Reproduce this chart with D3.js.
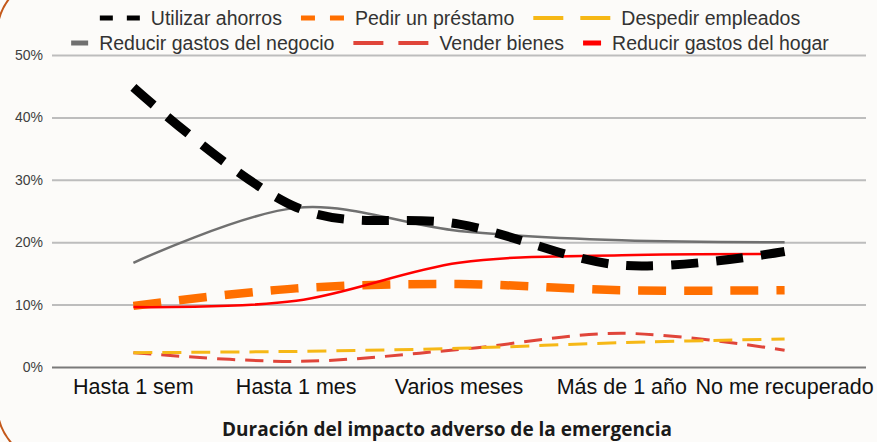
<!DOCTYPE html>
<html>
<head>
<meta charset="utf-8">
<script src="https://cdn.jsdelivr.net/npm/d3@7"></script>
<style>
  html, body { margin: 0; padding: 0; background: #fcfbf9; }
  svg { display: block; font-family: "Liberation Sans", Arial, sans-serif; }
</style>
</head>
<body>
<svg id="chart" width="877" height="442"></svg>
<script>
// categories and values (percent)
const categories = ["Hasta 1 sem", "Hasta 1 mes", "Varios meses", "Más de 1 año", "No me recuperado"];
const yTicks = [0, 10, 20, 30, 40, 50];

const utilizarAhorros = [44.8, 25.6, 22.9, 16.3, 18.5];
const pedirPrestamo = [9.8, 12.6, 13.3, 12.3, 12.3];
const despedirEmpleados = [2.3, 2.5, 3.0, 3.9, 4.5];
const reducirNegocio = [16.7, 25.5, 21.8, 20.3, 20.0];
const venderBienes = [2.3, 0.9, 2.8, 5.4, 2.7];
const reducirHogar = [9.6, 10.6, 16.7, 17.9, 18.1];

const seriesNames = [
  "Utilizar ahorros", "Pedir un préstamo", "Despedir empleados",
  "Reducir gastos del negocio", "Vender bienes", "Reducir gastos del hogar"
];
const seriesValues = [utilizarAhorros, pedirPrestamo, despedirEmpleados,
  reducirNegocio, venderBienes, reducirHogar];

// drawing styles, per series
const styles = [
  {color: "#000000", width: 9, dash: "27,18", legW: 40, legDash: "13,14", legWidth: 5},
  {color: "#ff6f00", width: 8.5, dash: "28,18", legW: 43, legDash: "14,15", legWidth: 5},
  {color: "#f6b816", width: 3, dash: "19,10", legW: 77, legDash: "30,17", legWidth: 4},
  {color: "#707070", width: 2.5, dash: null, legW: 17, legDash: null, legWidth: 5},
  {color: "#e0453a", width: 3, dash: "18,10", legW: 75, legDash: "30,15", legWidth: 4},
  {color: "#ff0000", width: 2.5, dash: null, legW: 18, legDash: null, legWidth: 5}
];
// draw order: thin lines below, thick on top like the original
const drawOrder = [4, 2, 1, 3, 5, 0];

const svg = d3.select("#chart");
const W = 877, H = 442;
const margin = {top: 55, right: 11, bottom: 75, left: 52};

svg.append("rect").attr("width", W).attr("height", H).attr("fill", "#fcfbf9");
// frame of the slide, rounded, mostly outside the picture
svg.append("rect")
  .attr("x", -3).attr("y", -25).attr("width", 1000).attr("height", 489)
  .attr("rx", 60).attr("ry", 60)
  .attr("fill", "none").attr("stroke", "#c4581a").attr("stroke-width", 2);

const x = d3.scaleBand()
  .domain(categories)
  .range([margin.left, W - margin.right]);
const y = d3.scaleLinear()
  .domain([0, 50])
  .range([H - margin.bottom, margin.top]);

// gridlines
const yAxis = d3.axisLeft(y)
  .tickValues(yTicks)
  .tickSize(-(W - margin.right - margin.left))
  .tickPadding(9)
  .tickFormat(d => d + "%");
const gy = svg.append("g")
  .attr("transform", "translate(" + margin.left + ",0)")
  .call(yAxis);
gy.select(".domain").remove();
gy.selectAll(".tick line")
  .attr("stroke", d => d === 0 ? "#7a7a7a" : "#bdbdbd")
  .attr("stroke-width", 2);
gy.selectAll(".tick text")
  .attr("fill", "#404040")
  .style("font-size", "14px")
  .style("font-family", "Liberation Sans, Arial, sans-serif");

// category labels
const xAxis = d3.axisBottom(x).tickSize(0).tickPadding(12);
const gx = svg.append("g")
  .attr("transform", "translate(0," + y(0) + ")")
  .call(xAxis);
gx.select(".domain").remove();
gx.selectAll(".tick text")
  .attr("fill", "#111")
  .style("font-size", "21.5px")
  .style("font-family", "Liberation Sans, Arial, sans-serif");

// axis title
svg.append("text")
  .attr("x", 447).attr("y", 436)
  .attr("text-anchor", "middle")
  .attr("fill", "#1a1a1a")
  .style("font-family", "'Open Sans', sans-serif")
  .style("font-weight", "700")
  .style("font-size", "19px")
  .text("Duración del impacto adverso de la emergencia");

// lines
const line = d3.line()
  .x((d, i) => x(categories[i]) + x.bandwidth() / 2)
  .y(d => y(d))
  .curve(d3.curveCardinal.tension(0));

const gLines = svg.append("g");
drawOrder.forEach(k => {
  gLines.append("path")
    .datum(seriesValues[k])
    .attr("d", line)
    .attr("fill", "none")
    .attr("stroke", styles[k].color)
    .attr("stroke-width", styles[k].width)
    .attr("stroke-dasharray", styles[k].dash)
    .attr("stroke-linecap", "butt");
});

// legend, two centered rows
const legendRows = [[0, 1, 2], [3, 4, 5]];
const rowY = [18, 43];
const legCenter = 450;
legendRows.forEach((row, r) => {
  const g = svg.append("g");
  let cx = 0;
  row.forEach((k, j) => {
    const s = styles[k];
    g.append("line")
      .attr("x1", cx).attr("x2", cx + s.legW)
      .attr("y1", 0).attr("y2", 0)
      .attr("stroke", s.color)
      .attr("stroke-width", s.legWidth)
      .attr("stroke-dasharray", s.legDash);
    cx += s.legW + 11;
    const t = g.append("text")
      .attr("x", cx).attr("y", 0).attr("dy", "0.35em")
      .attr("fill", "#333")
      .style("font-size", "19.5px")
      .text(seriesNames[k]);
    cx += t.node().getComputedTextLength();
    if (j < row.length - 1) cx += 19;
  });
  g.attr("transform", "translate(" + (legCenter - cx / 2) + "," + rowY[r] + ")");
});
</script>
</body>
</html>
